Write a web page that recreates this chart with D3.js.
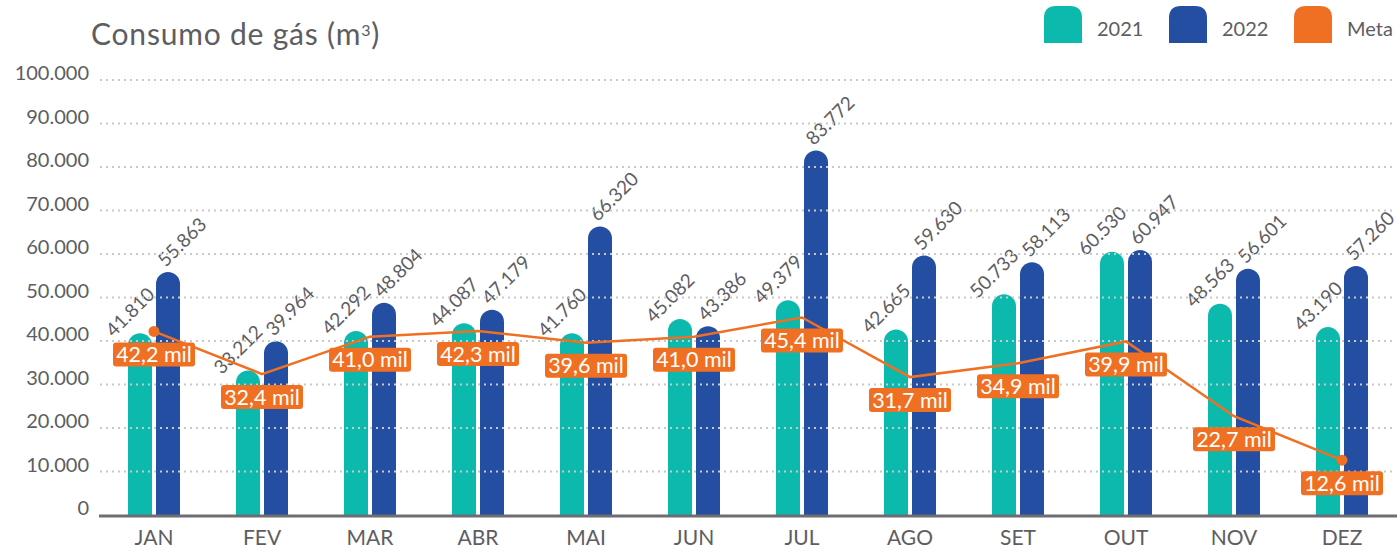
<!DOCTYPE html>
<html>
<head>
<meta charset="utf-8">
<script src="https://cdn.jsdelivr.net/npm/d3@7"></script>
<style>
  body { margin: 0; background: #fff; }
  svg { display: block; font-family: Lato, "Noto Sans", sans-serif; }
</style>
</head>
<body>
<svg id="chart" width="1399" height="551"></svg>
<script>
// Data
const meses = ["JAN", "FEV", "MAR", "ABR", "MAI", "JUN", "JUL", "AGO", "SET", "OUT", "NOV", "DEZ"];
const consumo2021 = [41810, 33212, 42292, 44087, 41760, 45082, 49379, 42665, 50733, 60530, 48563, 43190];
const consumo2022 = [55863, 39964, 48804, 47179, 66320, 43386, 83772, 59630, 58113, 60947, 56601, 57260];
const metaMil = [42.2, 32.4, 41.0, 42.3, 39.6, 41.0, 45.4, 31.7, 34.9, 39.9, 22.7, 12.6];
const yTicks = [0, 10000, 20000, 30000, 40000, 50000, 60000, 70000, 80000, 90000, 100000];
const legenda = ["2021", "2022", "Meta"];

const cores = { c2021: "#0bb9ad", c2022: "#234ea1", meta: "#f07023" };
const textColor = "#5d5d62";

const br = d3.formatLocale({ decimal: ",", thousands: ".", grouping: [3], currency: ["R$", ""] });
const fmtInt = br.format(",d");
const fmtMil = br.format(".1f");

const svg = d3.select("#chart");

// Scales
const x = d3.scaleBand().domain(meses).range([100, 1396]);
const y = d3.scaleLinear().domain([0, 100000]).range([515, 80]);

const barW = 24, gap = 2;

// rounded-top bar path
function barPath(x0, top, w, bottom) {
  const r = w / 2;
  return `M${x0},${bottom} L${x0},${top + r} A${r},${r} 0 0 1 ${x0 + w},${top + r} L${x0 + w},${bottom} Z`;
}

// Title
svg.append("text")
  .attr("x", 91).attr("y", 45)
  .attr("font-size", 30)
  .attr("letter-spacing", 0.8)
  .attr("fill", textColor)
  .html("Consumo de gás (m<tspan baseline-shift='super' font-size='16'>3</tspan>)");

// Legend
const legendX = [1044, 1169, 1294];
const legendColors = [cores.c2021, cores.c2022, cores.meta];
legenda.forEach((name, i) => {
  svg.append("path")
    .attr("d", `M${legendX[i]},43 L${legendX[i]},18 Q${legendX[i]},6 ${legendX[i] + 12},6 L${legendX[i] + 26},6 Q${legendX[i] + 38},6 ${legendX[i] + 38},18 L${legendX[i] + 38},43 Z`)
    .attr("fill", legendColors[i]);
  svg.append("text")
    .attr("x", legendX[i] + 53).attr("y", 36)
    .attr("font-size", 20)
    .attr("fill", textColor)
    .text(name);
});

// Y axis labels
svg.append("g").selectAll("text")
  .data(yTicks)
  .join("text")
  .attr("x", 89)
  .attr("y", d => y(d))
  .attr("text-anchor", "end")
  .attr("font-size", 20)
  .attr("fill", textColor)
  .text(d => fmtInt(d));

// Bars
const groups = svg.append("g").selectAll("g")
  .data(meses)
  .join("g");

groups.append("path")
  .attr("d", (m, i) => barPath(x(m) + x.bandwidth() / 2 - gap - barW, y(consumo2021[i]), barW, y(0)))
  .attr("fill", cores.c2021);

groups.append("path")
  .attr("d", (m, i) => barPath(x(m) + x.bandwidth() / 2 + gap, y(consumo2022[i]), barW, y(0)))
  .attr("fill", cores.c2022);

// Gridlines (drawn over the bars)
svg.append("g").selectAll("line")
  .data(yTicks.filter(d => d > 0))
  .join("line")
  .attr("x1", 100).attr("x2", 1396)
  .attr("y1", d => y(d)).attr("y2", d => y(d))
  .attr("stroke", "#c9c9c9")
  .attr("stroke-width", 2)
  .attr("stroke-dasharray", "2 4");

// Baseline
svg.append("line")
  .attr("x1", 99).attr("x2", 1397)
  .attr("y1", y(0) + 1).attr("y2", y(0) + 1)
  .attr("stroke", "#6e6e72")
  .attr("stroke-width", 3);

// X axis labels
svg.append("g").selectAll("text")
  .data(meses)
  .join("text")
  .attr("x", d => x(d) + x.bandwidth() / 2)
  .attr("y", 545)
  .attr("text-anchor", "middle")
  .attr("font-size", 21)
  .attr("fill", textColor)
  .text(d => d);

// Value labels (rotated)
groups.append("text")
  .attr("transform", (m, i) => {
    const cx = x(m) + x.bandwidth() / 2 - gap - barW / 2 - 10;
    const cy = y(consumo2021[i]) - 21;
    return `translate(${cx},${cy}) rotate(-45)`;
  })
  .attr("text-anchor", "middle")
  .attr("dy", "0.35em")
  .attr("font-size", 19)
  .attr("fill", textColor)
  .text((m, i) => fmtInt(consumo2021[i]));

groups.append("text")
  .attr("transform", (m, i) => {
    const cx = x(m) + x.bandwidth() / 2 + gap + barW / 2 + 14;
    const cy = y(consumo2022[i]) - 30;
    return `translate(${cx},${cy}) rotate(-45)`;
  })
  .attr("text-anchor", "middle")
  .attr("dy", "0.35em")
  .attr("font-size", 19)
  .attr("fill", textColor)
  .text((m, i) => fmtInt(consumo2022[i]));

// Meta line
const line = d3.line()
  .x((d, i) => x(meses[i]) + x.bandwidth() / 2)
  .y(d => y(d * 1000));

svg.append("path")
  .datum(metaMil)
  .attr("d", line)
  .attr("fill", "none")
  .attr("stroke", cores.meta)
  .attr("stroke-width", 2.5);

svg.append("g").selectAll("circle")
  .data([0, metaMil.length - 1])
  .join("circle")
  .attr("cx", i => x(meses[i]) + x.bandwidth() / 2)
  .attr("cy", i => y(metaMil[i] * 1000))
  .attr("r", 5.5)
  .attr("fill", cores.meta);

// Meta labels
const metaLabels = svg.append("g").selectAll("g")
  .data(metaMil)
  .join("g")
  .attr("transform", (d, i) => `translate(${x(meses[i]) + x.bandwidth() / 2},${y(d * 1000) + 23})`);

metaLabels.append("rect")
  .attr("x", -41).attr("y", -12)
  .attr("width", 82).attr("height", 24)
  .attr("rx", 3)
  .attr("fill", cores.meta);

metaLabels.append("text")
  .attr("text-anchor", "middle")
  .attr("dy", "0.36em")
  .attr("font-size", 21.5)
  .attr("fill", "#fff")
  .text(d => fmtMil(d) + " mil");
</script>
</body>
</html>
